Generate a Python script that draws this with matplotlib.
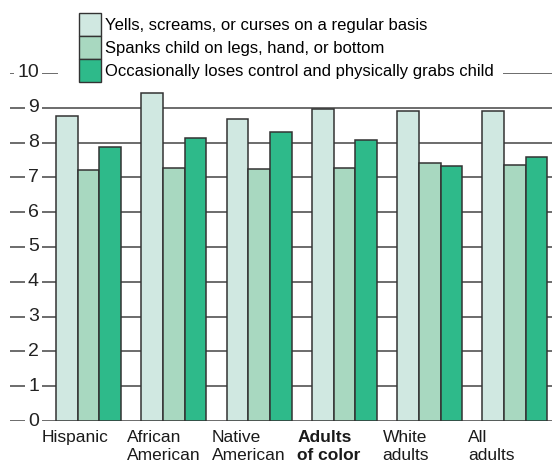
import numpy as np
import matplotlib
matplotlib.use("Agg")
import matplotlib.pyplot as plt
from matplotlib.patches import Patch, Rectangle
from matplotlib.transforms import blended_transform_factory

plt.rcParams['font.family'] = ['Liberation Sans', 'DejaVu Sans']

# --- datos ---
grupos = ["Hispanic", "African\nAmerican", "Native\nAmerican",
          "Adults\nof color", "White\nadults", "All\nadults"]
negrita = [False, False, False, True, False, False]
series = ["Yells, screams, or curses on a regular basis",
          "Spanks child on legs, hand, or bottom",
          "Occasionally loses control and physically grabs child"]
grita = [8.77, 9.42, 8.68, 8.97, 8.91, 8.91]
azota = [7.22, 7.26, 7.25, 7.26, 7.42, 7.35]
agarra = [7.88, 8.14, 8.30, 8.07, 7.33, 7.59]
valores_y = list(range(0, 11))

colores = ["#d0e8e1", "#a8d8c0", "#2eba8a"]
BORDE = "#333333"
W, H = 552, 466

fig = plt.figure(figsize=(W / 100, H / 100), dpi=100)
ax = fig.add_axes([10 / W, (H - 421) / H, 542 / W, 348 / H])

x = np.arange(len(grupos))
ancho = 0.254
for k, vals in enumerate([grita, azota, agarra]):
    ax.bar(x + (k - 1) * ancho, vals, ancho, color=colores[k],
           edgecolor=BORDE, linewidth=1.1, zorder=3)

# lineas de la rejilla desde el borde izquierdo, numeros encima con fondo blanco
for v in valores_y:
    ax.axhline(v, color="#444444", lw=1.1, zorder=1)
    ax.text(29 / 542, v, str(v), transform=blended_transform_factory(ax.transAxes, ax.transData),
            ha="right", va="center", fontsize=14, color="#222222", zorder=2,
            bbox=dict(boxstyle="square,pad=0.15", fc="white", ec="none"))

ax.set_xlim(-0.92, 5.434)
ax.set_ylim(0, 10)
ax.axis("off")

# etiquetas de categoria, alineadas a la izquierda
trans = blended_transform_factory(ax.transData, ax.transAxes)
for i, (g, b) in enumerate(zip(grupos, negrita)):
    ax.text(x[i] - 1.5 * ancho - 0.17, -0.027, g, transform=trans, ha="left", va="top",
            fontsize=12.5, linespacing=1.2, color="#1a1a1a",
            fontweight="bold" if b else "normal")

# leyenda; un rectangulo blanco tapa la linea del 10
fig.add_artist(Rectangle((58 / W, 1 - 80 / H), 445 / W, 14 / H, transform=fig.transFigure,
                         fc="white", ec="none", zorder=1))
handles = [Patch(facecolor=c, edgecolor=BORDE, linewidth=1) for c in colores]
fig.legend(handles, series, loc="upper left", bbox_to_anchor=(79 / W, 1 - 12.7 / H),
           frameon=False, borderpad=0, borderaxespad=0, handlelength=1.32,
           handleheight=1.746, handletextpad=0.25, labelspacing=0, fontsize=12)

fig.savefig("out.png", dpi=100)
